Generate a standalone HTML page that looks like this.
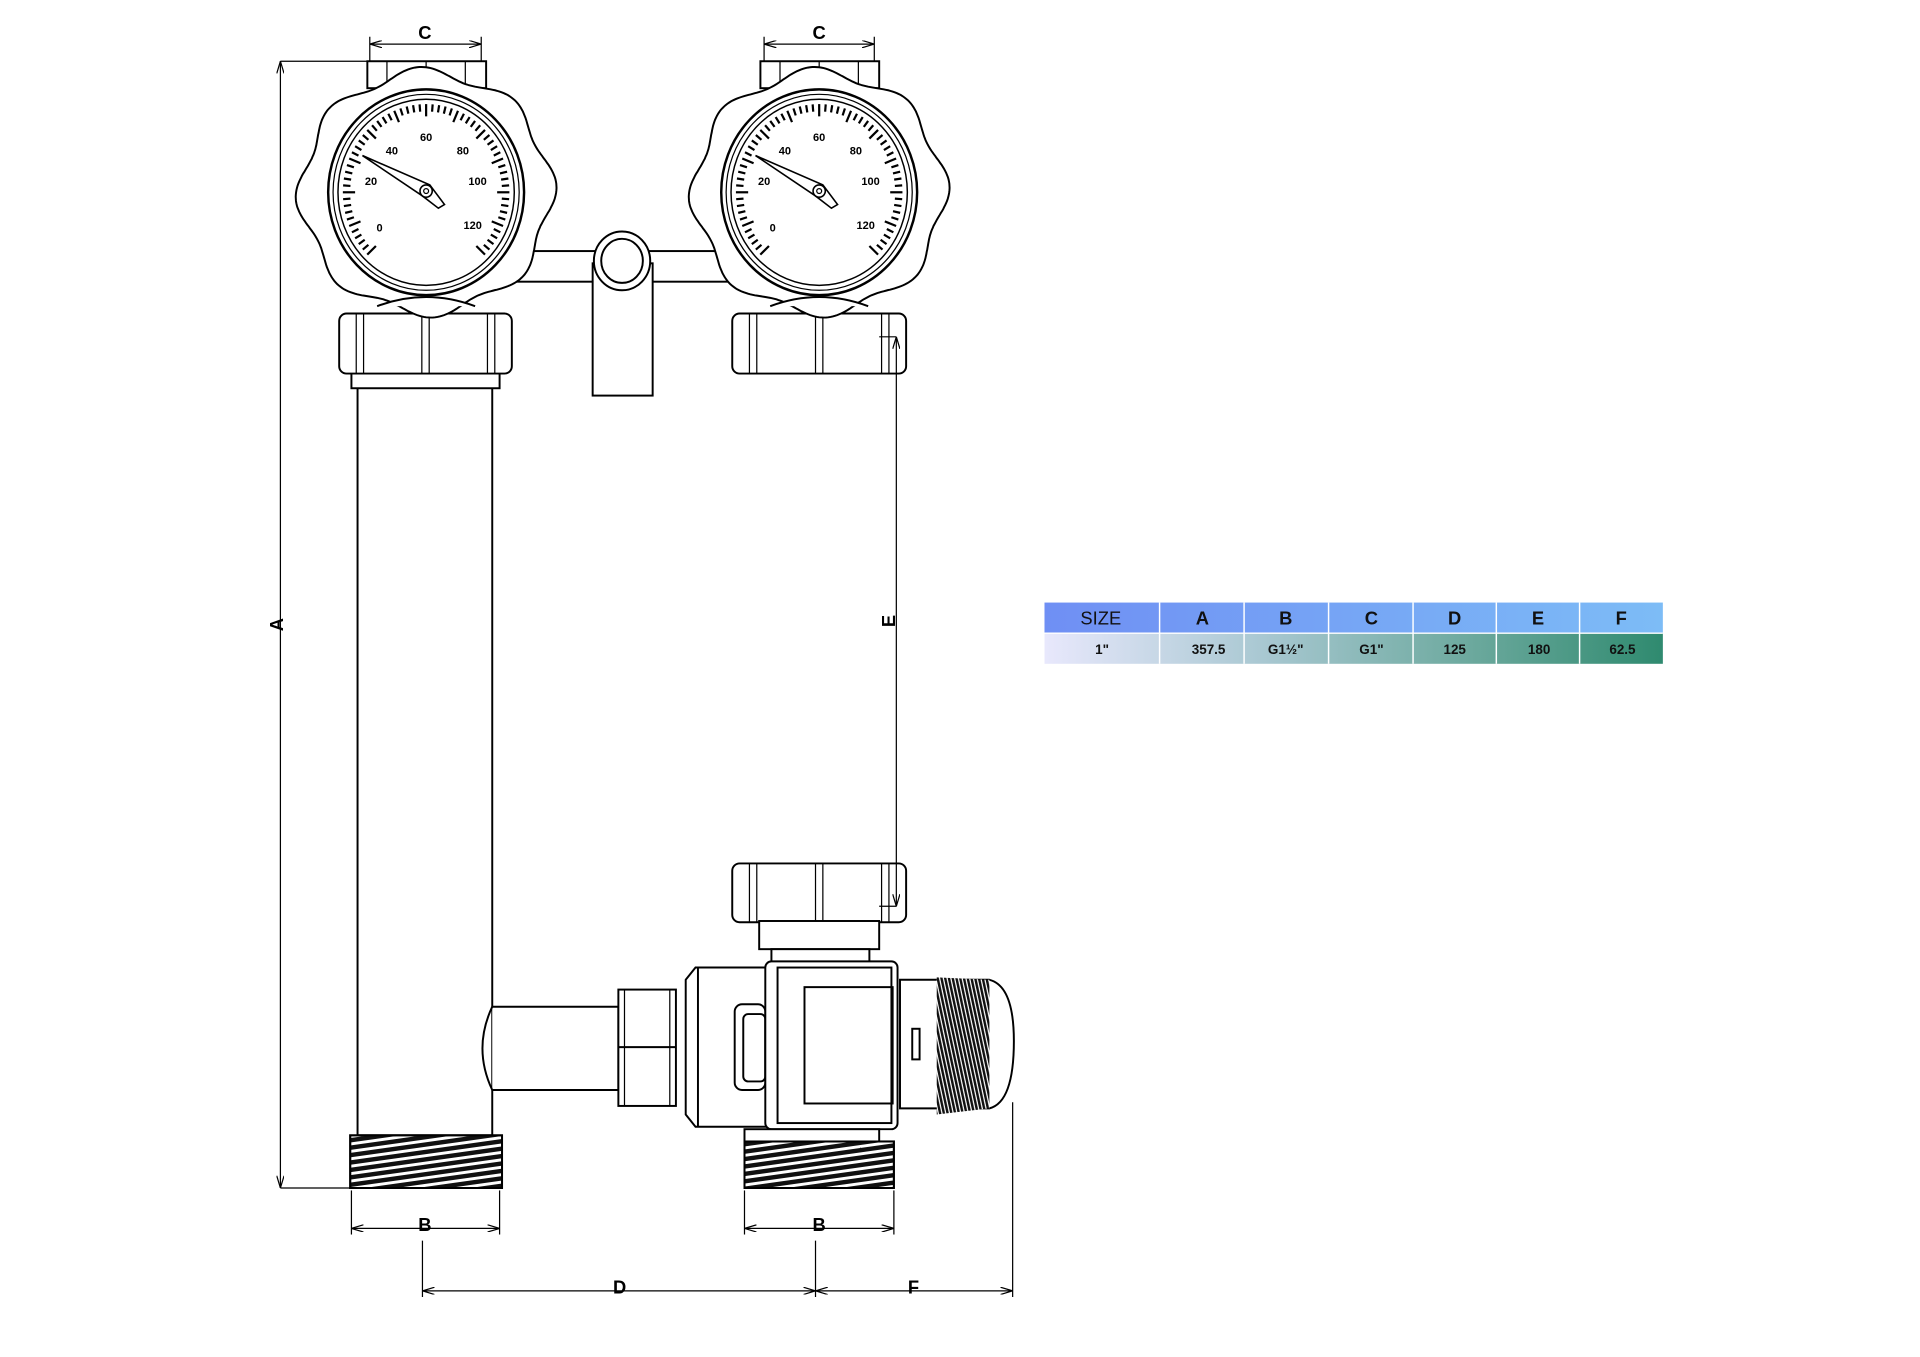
<!DOCTYPE html>
<html><head><meta charset="utf-8"><style>
html,body{margin:0;padding:0;background:#fff;width:1920px;height:1357px;overflow:hidden}
svg{position:absolute;left:0;top:0}
text{font-family:"Liberation Sans",sans-serif}
</style></head><body>
<svg id="s" width="1920" height="1357" viewBox="0 0 1568 1108" preserveAspectRatio="none" xmlns="http://www.w3.org/2000/svg">
<defs>
<pattern id="thr" width="8" height="6" patternUnits="userSpaceOnUse" patternTransform="rotate(-8)">
<rect width="8" height="6" fill="#fff"/><rect y="0" width="8" height="3.6" fill="#111"/></pattern>
<pattern id="knurl" width="3" height="8" patternUnits="userSpaceOnUse" patternTransform="rotate(-12)">
<rect width="3" height="8" fill="#fff"/><rect width="2" height="8" fill="#111"/></pattern>
<marker id="ar" markerWidth="10" markerHeight="6" refX="10" refY="3" orient="auto-start-reverse" markerUnits="userSpaceOnUse"><path d="M0,0 L10,3 L0,6" fill="none" stroke="#000" stroke-width="1"/></marker>
<linearGradient id="hg" x1="0" x2="1"><stop offset="0" stop-color="#6f8ff4"/><stop offset="1" stop-color="#7dbcf6"/></linearGradient>
<linearGradient id="bg" x1="0" x2="1"><stop offset="0" stop-color="#e8e8fc"/><stop offset="0.35" stop-color="#a9c8d2"/><stop offset="0.7" stop-color="#6aa89c"/><stop offset="1" stop-color="#2f8a6f"/></linearGradient>
</defs>
<g fill="none" stroke="#000" stroke-width="1.6" id="d">
<!-- dimension A -->
<line x1="229" y1="50" x2="229" y2="970" marker-start="url(#ar)" marker-end="url(#ar)" stroke-width="1"/>
<line x1="229" y1="50" x2="300" y2="50" stroke-width="1"/>
<line x1="229" y1="970" x2="288" y2="970" stroke-width="1"/>
<!-- C dims -->
<line x1="302" y1="36" x2="393" y2="36" marker-start="url(#ar)" marker-end="url(#ar)" stroke-width="1"/>
<line x1="302" y1="30" x2="302" y2="52" stroke-width="1"/><line x1="393" y1="30" x2="393" y2="52" stroke-width="1"/>
<line x1="624" y1="36" x2="714" y2="36" marker-start="url(#ar)" marker-end="url(#ar)" stroke-width="1"/>
<line x1="624" y1="30" x2="624" y2="52" stroke-width="1"/><line x1="714" y1="30" x2="714" y2="52" stroke-width="1"/>
<!-- crossbar -->
<rect x="410" y="205" width="195" height="25" fill="#fff"/>
<rect x="484" y="215" width="49" height="108" fill="#fff"/>
<ellipse cx="508" cy="213" rx="23" ry="24" fill="#fff"/>
<ellipse cx="508" cy="213" rx="17" ry="18"/>
<!-- left pipe -->
<rect x="292" y="315" width="110" height="612" fill="#fff"/>
<rect x="287" y="303" width="121" height="14" fill="#fff"/>
<!-- horizontal pipe -->
<path d="M402,822 L505,822 L505,890 L402,890" fill="#fff"/>
<path d="M402,822 Q386,856 402,890"/>
<!-- threads -->
<rect x="286" y="927" width="124" height="43" fill="url(#thr)"/>
<rect x="286" y="927" width="124" height="43"/>
<rect x="608" y="932" width="122" height="38" fill="url(#thr)"/>
<rect x="608" y="932" width="122" height="38"/>
<!-- lower nuts -->
<g id="nuts"></g>
<!-- right lower -->
<rect x="620" y="752" width="98" height="23" fill="#fff"/>
<rect x="630" y="775" width="80" height="12" fill="#fff"/>
<path d="M560,800 L568,790 L630,790 L630,920 L568,920 L560,910 Z" fill="#fff"/>
<line x1="570" y1="790" x2="570" y2="920"/>
<rect x="505" y="808" width="47" height="95" fill="#fff"/>
<line x1="505" y1="855" x2="552" y2="855"/>
<line x1="510" y1="808" x2="510" y2="903" stroke-width="1"/><line x1="547" y1="808" x2="547" y2="903" stroke-width="1"/>
<rect x="600" y="820" width="25" height="70" rx="6" fill="#fff"/>
<rect x="607" y="828" width="18" height="55" rx="4"/>
<rect x="625" y="785" width="108" height="137" rx="5" fill="#fff"/>
<rect x="635" y="790" width="93" height="127"/>
<rect x="657" y="806" width="72" height="95"/>
<path d="M735,800 L808,800 Q828,805 828,850 Q828,900 808,905 L735,905 Z" fill="#fff"/>
<path d="M765,798 L808,800 L808,905 L765,910 Z" fill="url(#knurl)" stroke="none"/>
<rect x="745" y="840" width="6" height="25"/>
<rect x="608" y="922" width="110" height="10" fill="#fff"/>
<!-- dimension E -->
<line x1="732" y1="275" x2="732" y2="740" marker-start="url(#ar)" marker-end="url(#ar)" stroke-width="1"/>
<line x1="718" y1="275" x2="732" y2="275" stroke-width="1"/>
<line x1="718" y1="740" x2="732" y2="740" stroke-width="1"/>
<!-- B dims -->
<line x1="287" y1="1003" x2="408" y2="1003" marker-start="url(#ar)" marker-end="url(#ar)" stroke-width="1"/>
<line x1="287" y1="972" x2="287" y2="1008" stroke-width="1"/><line x1="408" y1="972" x2="408" y2="1008" stroke-width="1"/>
<line x1="608" y1="1003" x2="730" y2="1003" marker-start="url(#ar)" marker-end="url(#ar)" stroke-width="1"/>
<line x1="608" y1="972" x2="608" y2="1008" stroke-width="1"/><line x1="730" y1="972" x2="730" y2="1008" stroke-width="1"/>
<!-- D F -->
<line x1="345" y1="1054" x2="666" y2="1054" marker-start="url(#ar)" marker-end="url(#ar)" stroke-width="1"/>
<line x1="666" y1="1054" x2="827" y2="1054" marker-start="url(#ar)" marker-end="url(#ar)" stroke-width="1"/>
<line x1="345" y1="1013" x2="345" y2="1059" stroke-width="1"/>
<line x1="666" y1="1013" x2="666" y2="1059" stroke-width="1"/>
<line x1="827" y1="900" x2="827" y2="1059" stroke-width="1"/>
<g id="gauges"></g>
</g>
<g font-size="15" font-weight="bold" fill="#000">
<text x="347" y="32" text-anchor="middle">C</text>
<text x="669" y="32" text-anchor="middle">C</text>
<text x="347" y="1005" text-anchor="middle">B</text>
<text x="669" y="1005" text-anchor="middle">B</text>
<text x="506" y="1056" text-anchor="middle">D</text>
<text x="746" y="1056" text-anchor="middle">F</text>
<text transform="translate(231,510) rotate(-90)" text-anchor="middle">A</text>
<text transform="translate(731,507) rotate(-90)" text-anchor="middle">E</text>
</g>
<!-- table -->
<rect x="853" y="492" width="505" height="25" fill="url(#hg)"/>
<rect x="853" y="517" width="505" height="25" fill="url(#bg)"/>
<g stroke="#fff" stroke-width="1.2">
<line x1="853" y1="517" x2="1358" y2="517"/>
<line x1="947" y1="492" x2="947" y2="542"/><line x1="1016" y1="492" x2="1016" y2="542"/>
<line x1="1085" y1="492" x2="1085" y2="542"/><line x1="1154" y1="492" x2="1154" y2="542"/>
<line x1="1222" y1="492" x2="1222" y2="542"/><line x1="1290" y1="492" x2="1290" y2="542"/>
</g>
<g text-anchor="middle" fill="#111">
<g font-size="15"><text x="899" y="510">SIZE</text><text x="982" y="510" font-weight="bold">A</text><text x="1050" y="510" font-weight="bold">B</text><text x="1120" y="510" font-weight="bold">C</text><text x="1188" y="510" font-weight="bold">D</text><text x="1256" y="510" font-weight="bold">E</text><text x="1324" y="510" font-weight="bold">F</text></g>
<g font-size="11" font-weight="bold"><text x="900" y="534">1"</text><text x="987" y="534">357.5</text><text x="1050" y="534">G1½"</text><text x="1120" y="534">G1"</text><text x="1188" y="534">125</text><text x="1257" y="534">180</text><text x="1325" y="534">62.5</text></g>
</g>
</svg>
<script>
var NS="http://www.w3.org/2000/svg";
function el(p,t,a){var e=document.createElementNS(NS,t);for(var k in a)e.setAttribute(k,a[k]);p.appendChild(e);return e;}
var nuts=document.getElementById('nuts');
function nut(x,y,w,h){el(nuts,'rect',{x:x,y:y,width:w,height:h,rx:6,fill:'#fff'});
[0.12,0.5,0.88].forEach(function(f){var cx=x+w*f;el(nuts,'line',{x1:cx-3,y1:y,x2:cx-3,y2:y+h,'stroke-width':1});el(nuts,'line',{x1:cx+3,y1:y,x2:cx+3,y2:y+h,'stroke-width':1});});}
nut(277,256,141,49);nut(598,256,142,49);nut(598,705,142,48);
var g=document.getElementById('gauges');
function gauge(cx,cy){
 el(g,'rect',{x:cx-48,y:50,width:97,height:22,fill:'#fff'});
 [-32,0,32].forEach(function(o){el(g,'line',{x1:cx+o,y1:50,x2:cx+o,y2:72,'stroke-width':1});});
 var d='';for(var i=0;i<=360;i++){var t=i*Math.PI/180;var r=1+0.045*Math.cos(8*t+0.4);var x=cx+102*r*Math.cos(t),y=cy+2+98*r*Math.sin(t);d+=(i?'L':'M')+x.toFixed(1)+','+y.toFixed(1);}
 el(g,'path',{d:d+'Z',fill:'#fff'});
 el(g,'ellipse',{cx:cx,cy:cy+2,rx:80,ry:84,fill:'#fff','stroke-width':2});
 el(g,'ellipse',{cx:cx,cy:cy+2,rx:76,ry:80,'stroke-width':1});
 el(g,'ellipse',{cx:cx,cy:cy+2,rx:72,ry:76,'stroke-width':1.2});
 for(var k=0;k<=60;k++){var a=(225-k*4.5)*Math.PI/180;var c=Math.cos(a),s=-Math.sin(a);var L=(k%5==0)?10:6;
  el(g,'line',{x1:cx+68*c,y1:cy+2+72*s,x2:cx+(68-L)*c,y2:cy+2+(72-L)*s,'stroke-width':1.8});}
 var labs=[['0',222],['20',188],['40',153],['60',110],['80',66],['100',30],['120',-8]];
 // labels positions
 var pos=[[-38,30],[-45,-8],[-28,-33],[0,-44],[30,-33],[42,-8],[38,28]],nm=['0','20','40','60','80','100','120'];
 pos.forEach(function(p,i){var t=el(g,'text',{x:cx+p[0],y:cy+p[1]+4,'text-anchor':'middle','font-size':9,'font-weight':'bold',fill:'#000',stroke:'none'});t.textContent=nm[i];});
 el(g,'path',{d:'M'+(cx-52)+','+(cy-28)+' L'+(cx+3)+','+(cy-4)+' L'+(cx+15)+','+(cy+12)+' L'+(cx+10)+','+(cy+15)+' L'+(cx-3)+','+(cy+5)+' Z',fill:'#fff','stroke-width':1.3});
 el(g,'circle',{cx:cx,cy:cy+1,r:5,fill:'#fff','stroke-width':1.3});el(g,'circle',{cx:cx,cy:cy+1,r:2,'stroke-width':1});
 el(g,'path',{d:'M'+(cx-40)+','+(cy+95)+' Q'+cx+','+(cy+80)+' '+(cx+40)+','+(cy+95),fill:'#fff'});
}
gauge(348,155);gauge(669,155);
</script>
</body></html>
